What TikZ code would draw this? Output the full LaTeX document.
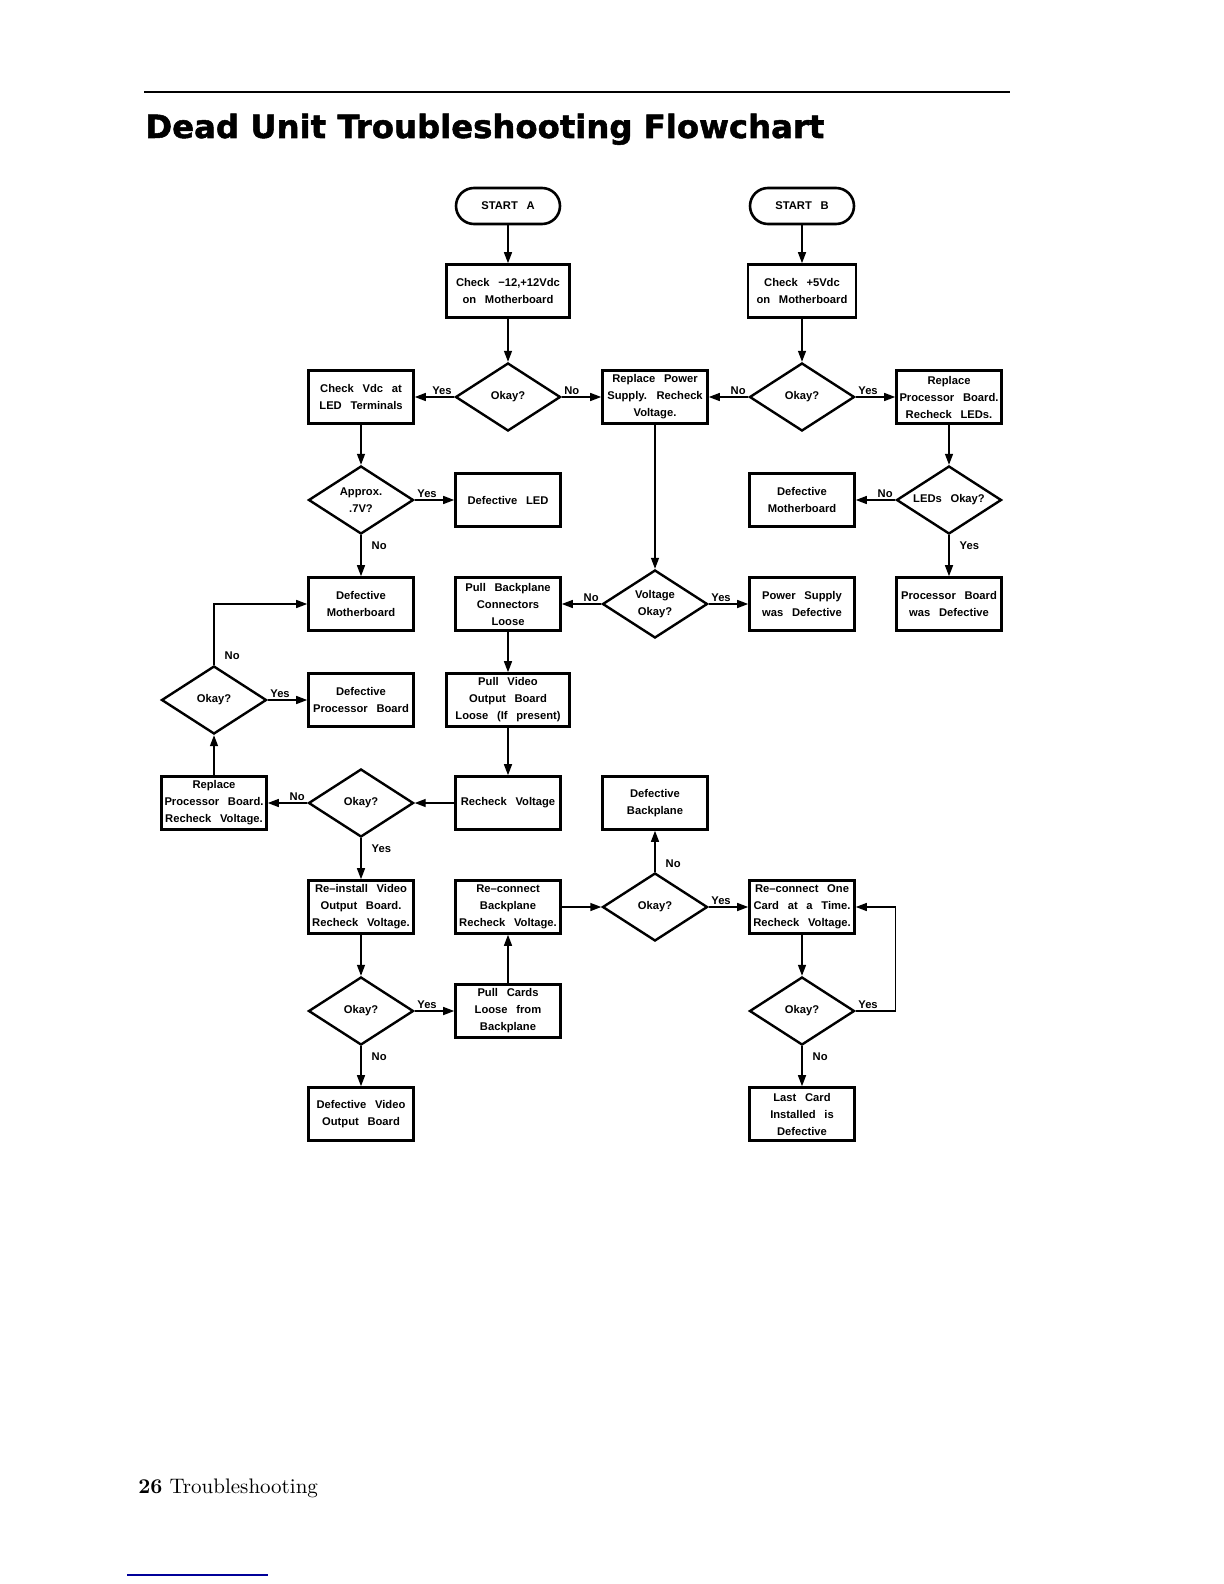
\documentclass[tikz,border=0pt]{standalone}
\usepackage{fontspec}
\usepackage{tikz}
\usetikzlibrary{arrows.meta,positioning,shapes.geometric}

\newfontfamily\chartfont[WordSpace=2.8]{Liberation Sans}
\newfontfamily\titlefont[FakeStretch=1.01, BoldFeatures={FakeBold=1.6}]{DejaVu Sans}

\begin{document}
\begin{tikzpicture}[x=0.5pt, y=-0.5pt, node distance=52pt and 73.5pt, on grid,
  chart/.style={font=\chartfont\bfseries\fontsize{5.6}{8.5}\selectfont},
  proc/.style={chart, rectangle, draw, line width=1.3pt, minimum width=52.5pt, minimum height=26.5pt, inner sep=1pt, align=center},
  decision/.style={chart, diamond, draw, line width=1.2pt, aspect=1.55, minimum width=52.5pt, minimum height=34pt, inner sep=0pt, align=center},
  term/.style={chart, rectangle, rounded corners=9pt, draw, line width=1.3pt, minimum width=52pt, minimum height=18pt},
  lbl/.style={chart, inner sep=1pt, pos=0},
  line/.style={draw, -{Triangle[length=5.5pt,width=4pt]}, line width=0.7pt}]

  \useasboundingbox (0,0) rectangle (1224,1584);

  % page heading
  \draw [line width=1pt] (144,92) -- (1010,92);
  \node [anchor=base west, inner sep=0pt, font=\titlefont\bfseries\fontsize{16}{19}\selectfont] (title) at (145,138) {Dead Unit Troubleshooting Flowchart};

  % top row
  \node [term] (startA) at (508,206) {START A};
  \node [proc, below=42.5pt of startA, minimum width=61.5pt] (chkA) {Check −12,+12Vdc\\on Motherboard};
  \node [decision, below=53pt of chkA] (okA) {Okay?};
  \node [proc, left=of okA] (chkLED) {Check Vdc at\\LED Terminals};
  \node [proc, right=of okA] (replPS) {Replace Power\\Supply. Recheck\\Voltage.};
  \node [decision, right=of replPS] (okB) {Okay?};
  \node [proc, above=53pt of okB, minimum width=54pt] (chkB) {Check +5Vdc\\on Motherboard};
  \node [term, above=42.5pt of chkB] (startB) {START B};
  \node [proc, right=of okB] (replPL) {Replace\\Processor Board.\\Recheck LEDs.};

  % LED checks
  \node [decision, below=51.5pt of chkLED] (approx) {Approx.\\.7V?};
  \node [proc, right=of approx] (defLED) {Defective LED};
  \node [decision, below=51.5pt of replPL] (ledsOk) {LEDs Okay?};
  \node [proc, left=of ledsOk] (defMBb) {Defective\\Motherboard};
  \node [proc, below=of approx] (defMBa) {Defective\\Motherboard};
  \node [proc, right=of defMBa] (pullBP) {Pull Backplane\\Connectors\\Loose};
  \node [decision, right=of pullBP] (voltOk) {Voltage\\Okay?};
  \node [proc, right=of voltOk] (psDef) {Power Supply\\was Defective};
  \node [proc, below=of ledsOk] (pbDef) {Processor Board\\was Defective};

  % board checks
  \node [proc, below=48pt of defMBa] (defPB) {Defective\\Processor Board};
  \node [decision, left=of defPB] (okC) {Okay?};
  \node [proc, below=48pt of pullBP, minimum width=61.5pt] (pullVid) {Pull Video\\Output Board\\Loose (If present)};
  \node [proc, below=51.5pt of pullVid] (recheck) {Recheck Voltage};
  \node [decision, left=of recheck] (okD) {Okay?};
  \node [proc, left=of okD] (replPV) {Replace\\Processor Board.\\Recheck Voltage.};
  \node [proc, right=of recheck] (defBP) {Defective\\Backplane};

  % card checks
  \node [proc, below=of okD] (reinst) {Re–install Video\\Output Board.\\Recheck Voltage.};
  \node [proc, below=of recheck] (reconBP) {Re–connect\\Backplane\\Recheck Voltage.};
  \node [decision, below=of defBP] (okE) {Okay?};
  \node [proc, right=of okE] (reconOne) {Re–connect One\\Card at a Time.\\Recheck Voltage.};
  \node [decision, below=of reinst] (okF) {Okay?};
  \node [proc, below=of reconBP] (pullCards) {Pull Cards\\Loose from\\Backplane};
  \node [decision, below=of reconOne] (okG) {Okay?};
  \node [proc, below=51.5pt of okF] (defVid) {Defective Video\\Output Board};
  \node [proc, below=51.5pt of okG] (lastCard) {Last Card\\Installed is\\Defective};

  % connectors
  \path [line] (startA) -- (chkA);
  \path [line] (chkA) -- (okA);
  \path [line] (okA.west) -- node [lbl, anchor=south east] {Yes} (chkLED.east);
  \path [line] (okA.east) -- node [lbl, anchor=south west] {No} (replPS.west);
  \path [line] (startB) -- (chkB);
  \path [line] (chkB) -- (okB);
  \path [line] (okB.west) -- node [lbl, anchor=south east] {No} (replPS.east);
  \path [line] (okB.east) -- node [lbl, anchor=south west] {Yes} (replPL.west);
  \path [line] (chkLED) -- (approx);
  \path [line] (approx.east) -- node [lbl, anchor=south west] {Yes} (defLED.west);
  \path [line] (approx.south) -- node [lbl, anchor=north west, xshift=4pt, yshift=-2pt] {No} (defMBa.north);
  \path [line] (replPL) -- (ledsOk);
  \path [line] (ledsOk.west) -- node [lbl, anchor=south east] {No} (defMBb.east);
  \path [line] (ledsOk.south) -- node [lbl, anchor=north west, xshift=4pt, yshift=-2pt] {Yes} (pbDef.north);
  \path [line] (replPS) -- (voltOk);
  \path [line] (voltOk.west) -- node [lbl, anchor=south east] {No} (pullBP.east);
  \path [line] (voltOk.east) -- node [lbl, anchor=south west] {Yes} (psDef.west);
  \path [line] (pullBP) -- (pullVid);
  \path [line] (pullVid) -- (recheck);
  \path [line] (recheck.west) -- (okD.east);
  \path [line] (okD.west) -- node [lbl, anchor=south east] {No} (replPV.east);
  \path [line] (replPV) -- (okC.south);
  \path [line] (okC.east) -- node [lbl, anchor=south west] {Yes} (defPB.west);
  \path [line] (okC.north) |- node [lbl, anchor=south west, xshift=4pt, yshift=1pt] {No} (defMBa.west);
  \path [line] (okD.south) -- node [lbl, anchor=north west, xshift=4pt, yshift=-2pt] {Yes} (reinst.north);
  \path [line] (reinst) -- (okF.north);
  \path [line] (okF.east) -- node [lbl, anchor=south west] {Yes} (pullCards.west);
  \path [line] (okF.south) -- node [lbl, anchor=north west, xshift=4pt, yshift=-2pt] {No} (defVid.north);
  \path [line] (pullCards) -- (reconBP);
  \path [line] (reconBP.east) -- (okE.west);
  \path [line] (okE.north) -- node [lbl, anchor=south west, xshift=4pt, yshift=1pt] {No} (defBP.south);
  \path [line] (okE.east) -- node [lbl, anchor=south west] {Yes} (reconOne.west);
  \path [line] (reconOne) -- (okG.north);
  \path [line] (okG.south) -- node [lbl, anchor=north west, xshift=4pt, yshift=-2pt] {No} (lastCard.north);
  \path [line] (okG.east) -- node [lbl, anchor=south west] {Yes} ++(20pt,0) |- (reconOne.east);

  % page footer
  \node [anchor=base west, inner sep=0pt, font=\fontsize{10.5}{12.5}\selectfont] (folio) at (138,1493) {\textbf{26} Troubleshooting};
  \draw [blue!60!black, line width=0.6pt] (127,1575) -- (268,1575);
\end{tikzpicture}
\end{document}
